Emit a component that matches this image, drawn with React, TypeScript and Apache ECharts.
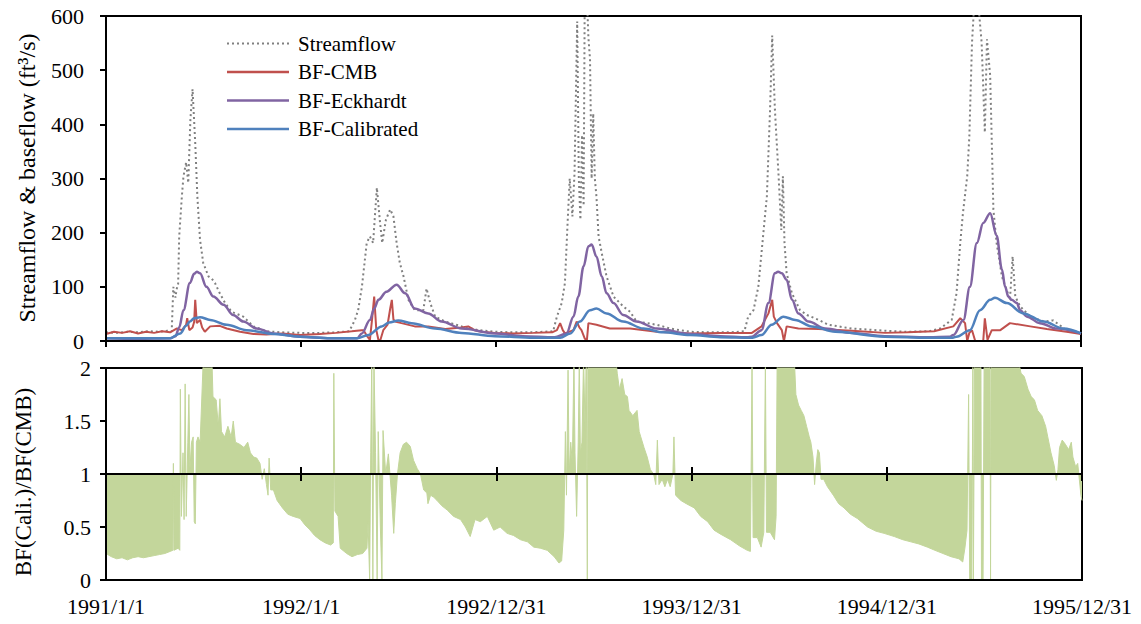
import React, { useEffect, useRef } from "react";
import * as echarts from "echarts";

// Day 0 = 1991/1/1, day 1825 = 1995/12/31
const START_UTC = Date.UTC(1991, 0, 1);
const X_MIN_DAY = 0;
const X_MAX_DAY = 1825;
const X_TICK_DAYS = 365;

const seriesNames = ["Streamflow", "BF-CMB", "BF-Eckhardt", "BF-Calibrated"];

// [day, ft3/s]
const streamflow: [number, number][] = [
  [0, 16], [20, 15], [40, 17], [60, 16], [80, 18], [100, 17], [115, 19], [123, 18],
  [126, 100], [130, 80], [132, 95], [135, 105], [137, 193], [142, 267], [145, 304], [150, 330], [154, 292],
  [158, 409], [162, 465], [167, 366], [171, 267], [176, 187], [182, 144], [192, 119], [198, 115], [204, 107],
  [213, 88], [223, 70], [235, 54], [245, 50], [257, 45], [276, 27], [301, 18], [330, 16], [363, 15],
  [400, 15], [430, 16], [455, 18],
  [460, 27], [466, 39], [472, 57], [479, 100], [488, 181], [494, 193], [500, 181], [504, 240], [507, 283],
  [513, 218], [517, 181], [524, 224], [532, 243], [538, 230], [544, 181], [550, 144], [557, 119], [566, 76],
  [578, 57], [594, 57], [600, 97], [607, 70], [616, 45], [635, 36], [666, 27], [697, 20], [728, 17],
  [760, 16], [800, 16], [837, 18],
  [844, 45], [853, 70], [859, 107], [864, 218], [868, 300], [873, 230], [877, 310], [882, 590], [885, 300],
  [888, 224], [891, 380], [894, 250], [896, 620], [900, 640], [903, 560], [906, 520], [909, 300], [912, 420],
  [915, 300], [918, 267], [922, 193], [928, 162], [937, 119], [950, 82], [968, 64], [981, 54], [993, 36],
  [1031, 30], [1056, 23], [1093, 17],
  [1130, 16], [1170, 16], [1195, 18],
  [1202, 45], [1212, 57], [1221, 100], [1231, 205], [1237, 267], [1243, 428], [1247, 564], [1252, 428],
  [1259, 304], [1264, 205], [1267, 304], [1270, 181], [1274, 125], [1284, 88], [1299, 57], [1312, 48],
  [1334, 39], [1352, 30], [1396, 23], [1458, 19],
  [1500, 17], [1540, 18], [1561, 23],
  [1583, 39], [1592, 88], [1599, 181], [1604, 236], [1612, 304], [1616, 378], [1621, 551], [1625, 620],
  [1633, 620], [1639, 551], [1645, 385], [1649, 557], [1655, 490], [1661, 243], [1667, 181], [1677, 119],
  [1686, 94], [1692, 76], [1697, 156], [1702, 82], [1711, 64], [1730, 45], [1755, 36], [1773, 38],
  [1798, 20], [1825, 14],
];

const bfCMB: [number, number][] = [
  [0, 13], [15, 17], [30, 15], [45, 18], [60, 14], [75, 17], [90, 15], [105, 18], [120, 16], [132, 23],
  [142, 20], [150, 30], [152, 42], [156, 20], [162, 25], [165, 35], [167, 76], [170, 33], [176, 39],
  [180, 25], [185, 17], [195, 27], [213, 28], [226, 23], [251, 17], [276, 13], [300, 12], [330, 14],
  [363, 11], [400, 13], [430, 15], [460, 18], [479, 20], [482, 20], [488, 10], [494, 2], [498, 40],
  [502, 82], [506, 20], [510, 2], [513, 0], [519, 20], [527, 30], [532, 60], [535, 76], [538, 40],
  [541, 36], [553, 33], [578, 27], [603, 27], [635, 22], [665, 25], [678, 27], [690, 20], [703, 17],
  [728, 15], [760, 14], [800, 15], [835, 16], [844, 20], [850, 33], [855, 20], [859, 14], [875, 20],
  [881, 36], [886, 25], [890, 20], [896, 5], [900, 0], [903, 33], [918, 30], [943, 23], [981, 23],
  [1031, 17], [1093, 14], [1150, 15], [1209, 15], [1227, 27], [1240, 51], [1247, 76], [1250, 45],
  [1256, 33], [1265, 20], [1269, 0], [1274, 27], [1296, 23], [1334, 22], [1396, 19], [1458, 15],
  [1500, 16], [1550, 18], [1586, 27], [1599, 42], [1608, 33], [1612, 0], [1616, 15], [1621, 20],
  [1627, 0], [1642, 0], [1645, 42], [1650, 2], [1658, 20], [1674, 20], [1692, 33], [1730, 27],
  [1761, 22], [1798, 17], [1825, 13],
];

const bfEckhardt: [number, number][] = [
  [0, 5], [60, 4], [120, 5], [130, 9], [137, 25], [145, 57], [157, 107], [165, 124], [170, 128],
  [176, 125], [188, 100], [201, 82], [220, 67], [238, 48], [257, 36], [282, 23], [313, 14], [363, 8],
  [420, 5], [470, 5],
  [479, 14], [494, 39], [502, 60], [510, 76], [525, 91], [544, 104], [560, 88], [578, 60], [603, 51],
  [628, 36], [666, 23], [728, 14], [780, 9], [840, 7],
  [862, 14], [875, 45], [884, 82], [894, 138], [903, 175], [909, 178], [918, 156], [928, 119], [937, 88],
  [950, 70], [968, 48], [993, 36], [1031, 23], [1093, 13], [1150, 9], [1200, 7],
  [1209, 8], [1227, 20], [1240, 70], [1252, 125], [1258, 128], [1265, 125], [1274, 113], [1284, 76],
  [1296, 51], [1315, 36], [1346, 23], [1396, 15], [1458, 9], [1540, 7], [1580, 8],
  [1586, 11], [1605, 39], [1617, 100], [1630, 181], [1642, 218], [1655, 236], [1667, 195], [1677, 132],
  [1683, 100], [1689, 82], [1695, 76], [1705, 70], [1711, 57], [1724, 45], [1748, 33], [1780, 23],
  [1825, 14],
];

const bfCalibrated: [number, number][] = [
  [0, 5], [120, 5], [139, 14], [150, 28], [157, 36], [165, 42], [176, 44], [195, 39], [226, 30],
  [263, 20], [313, 13], [363, 8], [420, 5], [470, 5],
  [491, 11], [516, 27], [530, 34], [547, 38], [572, 33], [616, 23], [666, 15], [728, 9], [800, 6], [850, 6],
  [869, 14], [887, 36], [906, 57], [918, 60], [937, 51], [968, 36], [1006, 23], [1043, 16], [1093, 11],
  [1150, 7], [1210, 6],
  [1227, 11], [1246, 30], [1268, 45], [1290, 39], [1321, 27], [1365, 17], [1458, 8], [1540, 6], [1585, 6],
  [1592, 8], [1617, 20], [1636, 57], [1655, 76], [1664, 80], [1686, 70], [1717, 51], [1755, 36],
  [1792, 23], [1825, 14],
];

// [day, BF(Cali.)/BF(CMB)]
const ratioCaliCMB: [number, number][] = [
  [0, 0.25], [10, 0.22], [20, 0.2], [30, 0.21], [40, 0.19], [50, 0.21], [60, 0.22], [70, 0.21], [80, 0.22],
  [90, 0.23], [100, 0.24], [110, 0.25], [120, 0.27], [125, 0.28], [126, 1.1], [127, 0.28], [135, 0.3],
  [138, 0.28], [139, 1.8], [141, 0.6], [144, 1.2], [146, 0.57], [148, 1.85], [150, 0.6], [153, 1.3],
  [155, 1.75], [157, 1.05], [160, 1.3], [163, 1.35], [165, 0.55], [167, 0.53], [169, 1.3], [172, 1.35],
  [176, 1.3], [182, 2.1], [198, 2.1], [200, 1.73], [206, 1.7], [210, 1.45], [213, 1.71], [216, 1.4],
  [222, 1.35], [228, 1.45], [234, 1.35], [238, 1.5], [242, 1.3], [250, 1.28], [258, 1.25], [265, 1.3],
  [270, 1.2], [276, 1.16], [282, 1.15], [288, 1.1], [292, 0.95], [296, 1.05], [300, 0.9], [303, 0.8],
  [305, 1.15], [308, 0.85], [313, 0.85], [320, 0.75], [330, 0.68], [340, 0.62], [350, 0.6], [363, 0.58],
  [372, 0.52], [380, 0.48], [390, 0.42], [400, 0.38], [410, 0.35], [420, 0.33], [425, 0.35], [426, 1.95],
  [428, 0.65], [434, 0.6], [438, 0.3], [450, 0.25], [460, 0.22], [470, 0.24], [480, 0.25], [488, 0.3],
  [490, 0.55], [493, 0], [495, 1.2], [497, 2.1], [499, 0], [501, 2.1], [504, 1.2], [507, 0], [509, 1.4],
  [513, 0.5], [516, 0], [518, 1.41], [523, 1.0], [528, 1.19], [534, 0.8], [538, 0.44], [541, 0.72],
  [545, 1.0], [550, 1.2], [556, 1.28], [562, 1.3], [569, 1.26], [575, 1.13], [582, 1.05], [588, 1.0],
  [594, 0.85], [600, 0.82], [602, 0.72], [607, 0.8], [613, 0.78], [619, 0.75], [628, 0.7], [638, 0.66],
  [650, 0.6], [663, 0.57], [672, 0.5], [681, 0.41], [690, 0.57], [700, 0.55], [713, 0.6], [725, 0.47],
  [737, 0.5], [750, 0.44], [762, 0.42], [775, 0.38], [788, 0.36], [800, 0.31], [812, 0.3], [825, 0.28],
  [838, 0.22], [847, 0.16], [852, 0.18], [856, 0.47], [859, 1.4], [861, 0.8], [864, 1.98], [866, 1.0],
  [869, 1.3], [872, 1.1], [875, 2.1], [877, 1.2], [880, 0.6], [883, 1.3], [885, 2.1], [887, 1.2],
  [890, 1.3], [893, 2.1], [896, 1.4], [898, 2.1], [900, 0], [901, 2.1], [953, 2.1], [956, 1.95],
  [960, 1.8], [965, 1.9], [970, 1.75], [975, 1.73], [978, 1.6], [985, 1.55], [993, 1.6], [997, 1.4],
  [1000, 1.35], [1006, 1.25], [1012, 1.16], [1018, 1.04], [1024, 1.0], [1028, 0.9], [1031, 1.32],
  [1034, 0.9], [1040, 0.95], [1045, 0.88], [1050, 0.95], [1055, 0.88], [1060, 1.0], [1062, 1.35],
  [1065, 0.8], [1075, 0.75], [1085, 0.72], [1100, 0.68], [1112, 0.6], [1125, 0.55], [1137, 0.47],
  [1150, 0.43], [1168, 0.38], [1185, 0.32], [1199, 0.28], [1205, 0.27], [1208, 2.05], [1210, 0.4],
  [1218, 0.4], [1225, 0.31], [1230, 0.45], [1233, 2.05], [1235, 0.45], [1242, 0.45], [1250, 0.38],
  [1253, 0.6], [1255, 2.1], [1287, 2.1], [1290, 1.75], [1295, 1.65], [1300, 1.6], [1305, 1.55],
  [1310, 1.45], [1315, 1.35], [1318, 1.3], [1322, 1.16], [1325, 0.9], [1328, 1.1], [1331, 1.23],
  [1334, 1.2], [1337, 0.95], [1342, 0.95], [1349, 0.88], [1360, 0.8], [1370, 0.72], [1380, 0.68],
  [1392, 0.62], [1405, 0.58], [1424, 0.5], [1440, 0.46], [1455, 0.44], [1474, 0.41], [1490, 0.38],
  [1505, 0.36], [1520, 0.34], [1536, 0.31], [1550, 0.28], [1565, 0.25], [1580, 0.22], [1595, 0.2],
  [1602, 0.17], [1606, 0.3], [1610, 0.47], [1613, 1.75], [1615, 0], [1619, 0], [1621, 2.1], [1622, 0],
  [1624, 2.1], [1636, 2.1], [1637, 0], [1640, 0], [1642, 2.1], [1653, 2.1], [1654, 0], [1655, 2.1],
  [1705, 2.1], [1711, 1.95], [1717, 1.92], [1724, 1.8], [1730, 1.73], [1736, 1.7], [1742, 1.6],
  [1750, 1.55], [1757, 1.45], [1761, 1.35], [1767, 1.2], [1773, 1.08], [1777, 0.94], [1780, 1.04],
  [1783, 1.25], [1788, 1.32], [1794, 1.28], [1800, 1.23], [1805, 1.3], [1808, 1.16], [1813, 1.07],
  [1817, 1.1], [1820, 0.95], [1823, 0.8], [1825, 0.75],
];

const RATIO_BASE = 1;

const FONT = '"Liberation Serif", "Times New Roman", serif';

// dotted legend sample (small squares)
const DOTTED_ICON =
  "path://" + Array.from({ length: 13 }, (_, i) => `M${i * 5},0h2v2h-2z`).join("");

function dayLabel(d: number): string {
  const dt = new Date(START_UTC + Math.round(d) * 86400000);
  return `${dt.getUTCFullYear()}/${dt.getUTCMonth() + 1}/${dt.getUTCDate()}`;
}

export default function App() {
  const ref = useRef<HTMLDivElement>(null);

  useEffect(() => {
    if (!ref.current) return;
    const chart = echarts.init(ref.current, undefined, { renderer: "svg" });

    const blackLine = { color: "#000", width: 2 };
    const xBase = {
      type: "value" as const,
      min: X_MIN_DAY,
      max: X_MAX_DAY,
      interval: X_TICK_DAYS,
      splitLine: { show: false },
      z: 10,
    };

    const option: any = {
      animation: false,
      backgroundColor: "#fff",
      textStyle: { fontFamily: FONT },
      grid: [
        { left: 106, right: 60, top: 16, height: 325, show: true, borderColor: "#000", borderWidth: 2, backgroundColor: "transparent" },
        { left: 106, right: 59, top: 368, height: 212, show: true, borderColor: "#000", borderWidth: 2, backgroundColor: "transparent" },
      ],
      legend: {
        orient: "vertical",
        left: 227,
        top: 33,
        padding: 0,
        itemWidth: 62,
        itemHeight: 2.5,
        itemGap: 7.5,
        symbolKeepAspect: true,
        data: [
          { name: seriesNames[0], icon: DOTTED_ICON },
          { name: seriesNames[1], icon: "rect" },
          { name: seriesNames[2], icon: "rect" },
          { name: seriesNames[3], icon: "rect" },
        ],
        textStyle: { fontSize: 21, fontFamily: FONT, color: "#000", lineHeight: 21, padding: [0, 0, 0, 4] },
      },
      xAxis: [
        {
          ...xBase,
          gridIndex: 0,
          axisLine: { show: true, lineStyle: blackLine },
          axisTick: { show: true, length: 6, lineStyle: blackLine },
          axisLabel: { show: false },
        },
        {
          ...xBase,
          gridIndex: 1,
          position: "bottom",
          axisLine: { show: true, onZero: true, onZeroAxisIndex: 1, lineStyle: blackLine },
          axisTick: { show: true, length: 7, lineStyle: blackLine },
          axisLabel: { show: false },
        },
        {
          ...xBase,
          gridIndex: 1,
          position: "bottom",
          axisLine: { show: true, onZero: true, onZeroAxisIndex: 1, lineStyle: blackLine },
          axisTick: { show: true, inside: true, length: 7, lineStyle: blackLine },
          axisLabel: { show: false },
        },
        {
          ...xBase,
          gridIndex: 1,
          position: "bottom",
          axisLine: { show: true, onZero: false, lineStyle: blackLine },
          axisTick: { show: false },
          axisLabel: {
            show: true,
            margin: 15,
            fontSize: 22,
            fontFamily: FONT,
            color: "#000",
            showMinLabel: true,
            showMaxLabel: true,
            formatter: (v: number) => dayLabel(v),
          },
        },
      ],
      yAxis: [
        {
          type: "value",
          gridIndex: 0,
          min: 0,
          max: 600,
          interval: 100,
          z: 10,
          axisLine: { show: true, lineStyle: blackLine },
          axisTick: { show: true, length: 6, lineStyle: blackLine },
          axisLabel: { fontSize: 22, fontFamily: FONT, color: "#000", margin: 22 },
          splitLine: { show: false },
        },
        {
          type: "value",
          gridIndex: 1,
          min: -1,
          max: 1,
          interval: 0.5,
          z: 10,
          axisLine: { show: true, onZero: false, lineStyle: blackLine },
          axisTick: { show: true, length: 6, lineStyle: blackLine },
          axisLabel: {
            fontSize: 22,
            fontFamily: FONT,
            color: "#000",
            margin: 15,
            formatter: (v: number) => String(Math.round((v + RATIO_BASE) * 10) / 10),
          },
          splitLine: { show: false },
        },
      ],
      graphic: [
        {
          type: "text",
          x: 27,
          y: 178,
          rotation: Math.PI / 2,
          style: {
            text: "Streamflow & baseflow (ft³/s)",
            fontSize: 24,
            fontFamily: FONT,
            fill: "#000",
            align: "center",
            verticalAlign: "middle",
            textAlign: "center",
            textVerticalAlign: "middle",
          },
        },
        {
          type: "text",
          x: 23,
          y: 482,
          rotation: Math.PI / 2,
          style: {
            text: "BF(Cali.)/BF(CMB)",
            fontSize: 23,
            fontFamily: FONT,
            fill: "#000",
            align: "center",
            verticalAlign: "middle",
            textAlign: "center",
            textVerticalAlign: "middle",
          },
        },
      ],
      series: [
        {
          name: "Streamflow",
          type: "line",
          xAxisIndex: 0,
          yAxisIndex: 0,
          data: streamflow,
          symbol: "none",
          itemStyle: { color: "#808080" },
          lineStyle: { color: "#808080", width: 2, type: [2, 3] },
          z: 2,
        },
        {
          name: "BF-CMB",
          type: "line",
          xAxisIndex: 0,
          yAxisIndex: 0,
          data: bfCMB,
          symbol: "none",
          itemStyle: { color: "#c0504d" },
          lineStyle: { color: "#c0504d", width: 2 },
          z: 3,
        },
        {
          name: "BF-Eckhardt",
          type: "line",
          xAxisIndex: 0,
          yAxisIndex: 0,
          data: bfEckhardt,
          symbol: "none",
          smooth: 0.35,
          smoothMonotone: "x",
          itemStyle: { color: "#8064a2" },
          lineStyle: { color: "#8064a2", width: 2.5 },
          z: 4,
        },
        {
          name: "BF-Calibrated",
          type: "line",
          xAxisIndex: 0,
          yAxisIndex: 0,
          data: bfCalibrated,
          symbol: "none",
          smooth: 0.35,
          smoothMonotone: "x",
          itemStyle: { color: "#4f81bd" },
          lineStyle: { color: "#4f81bd", width: 2.5 },
          z: 5,
        },
        {
          name: "BF(Cali.)/BF(CMB)",
          type: "line",
          xAxisIndex: 1,
          yAxisIndex: 1,
          data: ratioCaliCMB.map(([d, r]) => [d, r - RATIO_BASE]),
          symbol: "none",
          clip: true,
          itemStyle: { color: "#c3d69b" },
          lineStyle: { color: "#c3d69b", width: 1 },
          areaStyle: { color: "#c3d69b", opacity: 1 },
          z: 1,
        },
      ],
    };

    chart.setOption(option);
    return () => chart.dispose();
  }, []);

  return (
    <div
      ref={ref}
      style={{ position: "fixed", left: 0, top: 0, width: 1141, height: 624, background: "#fff" }}
    />
  );
}
